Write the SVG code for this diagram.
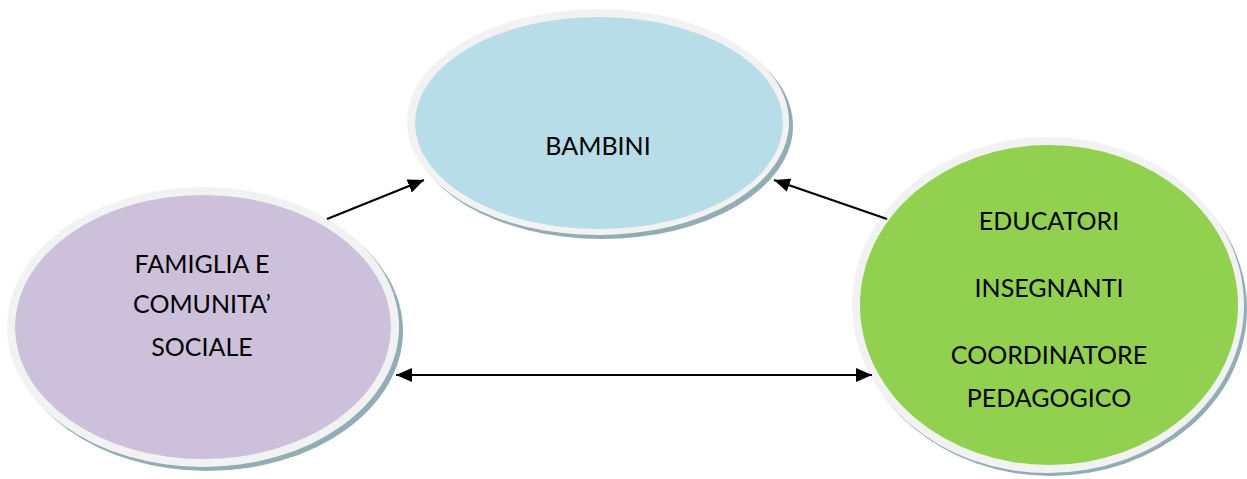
<svg xmlns="http://www.w3.org/2000/svg" width="1247" height="479" viewBox="0 0 1247 479">
<style>
.shadow{fill:#93adb4}
.rim{fill:#f2f2f2}
.lbl{font-family:Lato,"Open Sans","Liberation Sans",sans-serif;font-size:25px;fill:#000;text-anchor:middle}
.conn{stroke:#000;stroke-width:2.2;fill:none}
</style>
<defs>
<marker id="ah" markerUnits="userSpaceOnUse" markerWidth="18" markerHeight="14" refX="16" refY="7" orient="auto-start-reverse">
<path d="M0,0 L16,7 L0,14 Z" fill="#000"/>
</marker>
</defs>
<rect width="1247" height="479" fill="#fff"/>
<g id="bambini">
<ellipse class="shadow" cx="602" cy="126" rx="191" ry="113"/>
<ellipse class="rim" cx="598" cy="122" rx="191" ry="113"/>
<ellipse cx="599" cy="123" rx="184" ry="106" fill="#b7dde8"/>
<text class="lbl" x="598" y="155">BAMBINI</text>
</g>
<g id="famiglia">
<ellipse class="shadow" cx="207" cy="331" rx="196" ry="140"/>
<ellipse class="rim" cx="203" cy="327" rx="196" ry="140"/>
<ellipse cx="203" cy="327" rx="188" ry="132" fill="#ccc0da"/>
<text class="lbl" x="202" y="273">FAMIGLIA E</text>
<text class="lbl" x="202" y="313">COMUNITA’</text>
<text class="lbl" x="202" y="356">SOCIALE</text>
</g>
<g id="educatori">
<ellipse class="shadow" cx="1051" cy="309" rx="196" ry="167"/>
<ellipse class="rim" cx="1048" cy="305" rx="196" ry="168"/>
<ellipse cx="1049" cy="305" rx="189" ry="160" fill="#92d050"/>
<text class="lbl" x="1049" y="230">EDUCATORI</text>
<text class="lbl" x="1049" y="297">INSEGNANTI</text>
<text class="lbl" x="1049" y="364">COORDINATORE</text>
<text class="lbl" x="1049" y="407">PEDAGOGICO</text>
</g>
<g id="connectors">
<line class="conn" x1="327" y1="219" x2="424" y2="180" marker-end="url(#ah)"/>
<line class="conn" x1="887" y1="219" x2="774" y2="180" marker-end="url(#ah)"/>
<line class="conn" x1="396" y1="375" x2="872" y2="375" marker-start="url(#ah)" marker-end="url(#ah)"/>
</g>
</svg>
